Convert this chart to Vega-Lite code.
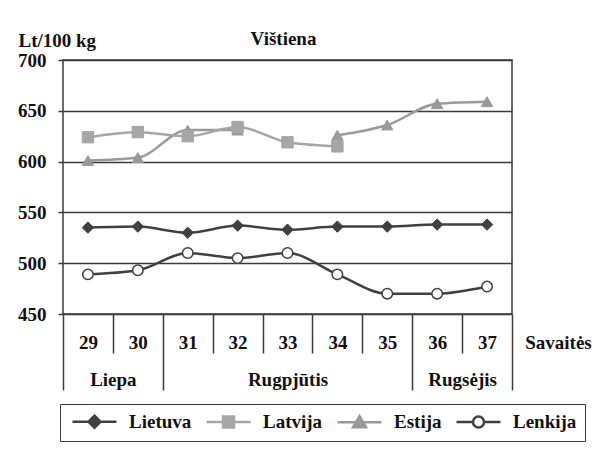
{
  "$schema": "https://vega.github.io/schema/vega-lite/v6.json",
  "width": 449,
  "height": 254,
  "autosize": {"type": "none"},
  "padding": {"left": 63, "top": 60, "right": 92, "bottom": 140},
  "background": "white",
  "config": {
    "font": "Liberation Serif",
    "view": {"stroke": "#3a3a3a", "strokeWidth": 1.5},
    "axis": {
      "labelFont": "Liberation Serif", "labelFontWeight": "bold", "labelFontSize": 19, "labelColor": "#111111",
      "titleFont": "Liberation Serif", "titleFontWeight": "bold", "titleFontSize": 19, "titleColor": "#111111"
    },
    "legend": {
      "labelFont": "Liberation Serif", "labelFontWeight": "bold", "labelFontSize": 19, "labelColor": "#111111",
      "strokeColor": "#3a3a3a", "padding": 8, "symbolSize": 100, "symbolStrokeWidth": 2.5, "labelOffset": 42, "columnPadding": 9
    }
  },
  "title": {"text": "Vištiena", "anchor": "middle", "frame": "group", "font": "Liberation Serif", "fontWeight": "bold", "fontSize": 19, "color": "#111111", "offset": 12, "dy": 30, "dx": -4},
  "data": {
    "values": [
      {"week": 29, "series": "Lietuva", "value": 535},
      {"week": 30, "series": "Lietuva", "value": 536},
      {"week": 31, "series": "Lietuva", "value": 530},
      {"week": 32, "series": "Lietuva", "value": 537},
      {"week": 33, "series": "Lietuva", "value": 533},
      {"week": 34, "series": "Lietuva", "value": 536},
      {"week": 35, "series": "Lietuva", "value": 536},
      {"week": 36, "series": "Lietuva", "value": 538},
      {"week": 37, "series": "Lietuva", "value": 538},
      {"week": 29, "series": "Estija", "value": 601},
      {"week": 30, "series": "Estija", "value": 604},
      {"week": 31, "series": "Estija", "value": 631},
      {"week": 32, "series": "Estija", "value": 631},
      {"week": 33, "series": "Estija", "value": null},
      {"week": 34, "series": "Estija", "value": 626},
      {"week": 35, "series": "Estija", "value": 636},
      {"week": 36, "series": "Estija", "value": 657},
      {"week": 37, "series": "Estija", "value": 659},
      {"week": 29, "series": "Latvija", "value": 624},
      {"week": 30, "series": "Latvija", "value": 629},
      {"week": 31, "series": "Latvija", "value": 625},
      {"week": 32, "series": "Latvija", "value": 634},
      {"week": 33, "series": "Latvija", "value": 619},
      {"week": 34, "series": "Latvija", "value": 615},
      {"week": 29, "series": "Lenkija", "value": 489},
      {"week": 30, "series": "Lenkija", "value": 493},
      {"week": 31, "series": "Lenkija", "value": 510},
      {"week": 32, "series": "Lenkija", "value": 505},
      {"week": 33, "series": "Lenkija", "value": 510},
      {"week": 34, "series": "Lenkija", "value": 489},
      {"week": 35, "series": "Lenkija", "value": 470},
      {"week": 36, "series": "Lenkija", "value": 470},
      {"week": 37, "series": "Lenkija", "value": 477}
    ]
  },
  "layer": [
    {
      "mark": {"type": "line", "interpolate": "monotone", "strokeWidth": 2.5},
      "encoding": {
        "x": {
          "field": "week", "type": "quantitative",
          "scale": {"domain": [28.5, 37.5], "nice": false, "zero": false},
          "axis": {
            "orient": "bottom", "values": [29, 30, 31, 32, 33, 34, 35, 36, 37], "format": "d",
            "ticks": false, "tickSize": 0, "domain": false, "grid": false, "labelPadding": 19,
            "labelFlush": false, "labelOverlap": false, "labelBound": false,
            "title": "Savaitės", "titleAngle": 0, "titleX": 495, "titleY": 28, "titleAlign": "center", "titleBaseline": "middle"
          }
        },
        "y": {
          "field": "value", "type": "quantitative",
          "scale": {"domain": [450, 700], "nice": false, "zero": false},
          "axis": {
            "values": [450, 500, 550, 600, 650, 700], "grid": true, "gridColor": "#3a3a3a", "gridWidth": 1.5,
            "domain": false, "ticks": true, "tickSize": 5, "tickColor": "#3a3a3a", "tickWidth": 1.5, "labelPadding": 12,
            "title": "Lt/100 kg", "titleAngle": 0, "titleX": -45, "titleY": -20, "titleAlign": "left", "titleBaseline": "middle"
          }
        },
        "stroke": {
          "field": "series", "type": "nominal",
          "scale": {"domain": ["Lietuva", "Latvija", "Estija", "Lenkija"], "range": ["#404040", "#a6a6a6", "#9a9a9a", "#404040"]},
          "legend": {
            "title": null, "orient": "none", "legendX": -3, "legendY": 344, "direction": "horizontal", "columns": 4,
            "encoding": {
              "symbols": {
                "shape": {
                  "condition": [
                    {"test": "datum.value === 'Lietuva'", "value": "M-1,0L7.8,0M3.4,-1.2L4.6,0L3.4,1.2L2.2,0Z"},
                    {"test": "datum.value === 'Latvija'", "value": "M-1,0L7.8,0M2.3,-1.1L4.5,-1.1L4.5,1.1L2.3,1.1Z"},
                    {"test": "datum.value === 'Estija'", "value": "M-1,0L7.8,0M3.4,-1.2L4.7,1L2.1,1Z"}
                  ],
                  "value": "M-1,0L2.3,0M4.5,0L7.8,0M2.3,0A1.1,1.1 0 1,0 4.5,0A1.1,1.1 0 1,0 2.3,0Z"
                },
                "fill": {
                  "condition": [
                    {"test": "datum.value === 'Lietuva'", "value": "#404040"},
                    {"test": "datum.value === 'Latvija'", "value": "#a6a6a6"},
                    {"test": "datum.value === 'Estija'", "value": "#9a9a9a"}
                  ],
                  "value": "#ffffff"
                }
              }
            }
          }
        }
      }
    },
    {
      "transform": [{"filter": "datum.series !== 'Lenkija'"}],
      "mark": {"type": "point", "filled": true, "opacity": 1, "size": 130, "strokeWidth": 1},
      "encoding": {
        "x": {
          "field": "week", "type": "quantitative",
          "axis": {
            "orient": "bottom", "values": [28.5, 29.5, 30.5, 31.5, 32.5, 33.5, 34.5, 35.5, 36.5, 37.5],
            "ticks": true, "tickSize": {"condition": {"test": "indexof([28.5, 30.5, 35.5, 37.5], datum.value) >= 0", "value": 76}, "value": 39},
            "tickColor": "#3a3a3a", "tickWidth": 1.5, "labels": false, "domain": false, "grid": false, "title": null
          }
        },
        "y": {"field": "value", "type": "quantitative"},
        "stroke": {"field": "series", "type": "nominal", "legend": null},
        "fill": {
          "field": "series", "type": "nominal", "legend": null,
          "scale": {"domain": ["Lenkija", "Estija", "Latvija", "Lietuva"], "range": ["#ffffff", "#9a9a9a", "#a6a6a6", "#404040"]}
        },
        "shape": {
          "field": "series", "type": "nominal", "legend": null,
          "scale": {"domain": ["Estija", "Lenkija", "Lietuva", "Latvija"], "range": ["triangle-up", "circle", "diamond", "square"]}
        }
      }
    },
    {
      "transform": [{"filter": "datum.series === 'Lenkija'"}],
      "mark": {"type": "point", "filled": true, "opacity": 1, "size": 110, "strokeWidth": 1.5},
      "encoding": {
        "x": {
          "field": "week", "type": "quantitative",
          "axis": {
            "orient": "bottom", "values": [29.5, 33, 36.5], "ticks": false, "tickSize": 0, "domain": false, "grid": false,
            "labelPadding": 56, "labelFlush": false, "labelOverlap": false, "labelBound": false,
            "labelExpr": "datum.value == 29.5 ? 'Liepa' : datum.value == 33 ? 'Rugpjūtis' : 'Rugsėjis'", "title": null
          }
        },
        "y": {"field": "value", "type": "quantitative"},
        "stroke": {"field": "series", "type": "nominal", "legend": null},
        "fill": {"field": "series", "type": "nominal", "legend": null},
        "shape": {"field": "series", "type": "nominal", "legend": null}
      }
    }
  ],
  "resolve": {"axis": {"x": "independent"}}
}
